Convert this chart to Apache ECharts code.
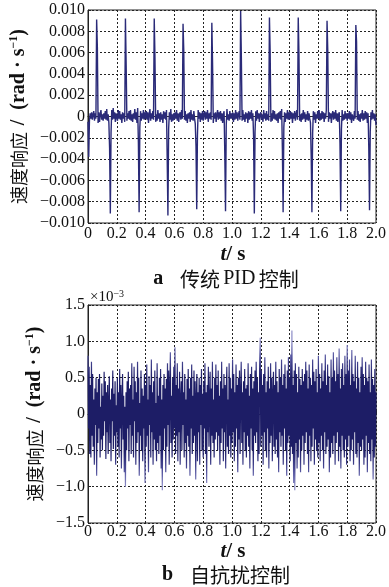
<!DOCTYPE html>
<html><head><meta charset="utf-8">
<script src="https://cdn.jsdelivr.net/npm/echarts@6/dist/echarts.min.js"></script>
<style>html,body{margin:0;padding:0;background:#fff}#c{width:389px;height:587px}</style>
</head><body><div id="c"></div>
<script>
// Panel a: traditional PID, sample step 0.005 s, values in units of 1e-4 rad/s
const DT_A = 0.005;
const speedA = [
-5,-38,-4,3,-2,4,-3,2,5,-4,3,-2, 91,65, -6,4,-5,2,6,-3,2,-4,3,-2,5,-3,7,-4,2,-6, -30,-91,-15, 6,-3,8,-2,4,-5,3,
3,-4,6,-2,5,-3,2,-6,4,-2,3,-5, 92,48, -4,3,-2,5,-3,6,-4,2,-5,3,-2,7,-3,4,-6,8, -25,-90,-10, 5,-4,3,-2,6,-3,4,
-2,5,-3,4,-6,2,7,-4,3,-2,5,-3, 92,55, -5,2,-4,6,-2,3,-5,4,-3,2,-6,5,-2,4,-3,6, -40,-93,-12, 4,-3,7,-5,2,-4,3,
-3,4,-2,6,-4,3,-5,2,4,-3,6,-2, 87,62, -3,5,-4,2,-6,3,-2,4,-5,6,-3,2,-4,5,-2,-7, -28,-87,-18, 6,-2,4,-5,3,-3,5,
-4,2,5,-3,4,-2,6,-5,3,-2,4,-3, 88,50, -6,3,-2,4,-5,2,6,-3,4,-2,5,-4,3,-6,2,5, -35,-89,-8, 7,-3,2,-4,5,-2,3,
-2,4,-5,3,-3,6,-2,4,-4,2,5,-3, 99,55, -4,6,-3,2,-5,4,-2,3,-6,5,-3,4,-2,6,-4,3, -20,-91,-14, 5,-4,6,-2,3,-5,2,
4,-3,2,-5,6,-2,3,-4,5,-3,2,-4, 93,60, -5,3,-4,6,-2,5,-3,2,-4,3,-6,4,-2,5,-3,7, -32,-90,-10, 4,-5,3,-2,6,-3,4,
-3,5,-2,4,-6,3,-2,5,-4,2,6,-3, 93,58, -4,2,-5,3,-3,6,-2,4,-5,2,-3,5,-4,3,-2,-6, -38,-90,-16, 5,-3,4,-6,2,-2,5,
-2,6,-4,3,-3,5,-2,4,-5,3,-2,6, 90,62, -5,4,-2,3,-6,2,5,-3,4,-2,6,-4,3,-5,2,4, -26,-89,-12, 6,-4,2,-3,5,-2,3,
-4,3,-2,5,-3,4,-6,2,3,-4,5,-2, 86,70, -3,5,-4,2,-5,3,-2,6,-4,3,-3,5,-2,4,-6,3, -30,-88,-14, 4,-3,6,-2,3,-4,2,
-8
];
// Panel b: ADRC, sample step 0.004 s, values in units of 1e-5 rad/s
const DT_B = 0.004;
const speedB = [
80,-20,65,-55,40,-60,72,-30,55,-45,20,-70,35,-15,50,-85,30,-40,48,-20,55,-60,10,-35,42,
-50,25,-30,58,-10,45,-62,30,-25,40,-55,15,52,-40,20,-65,35,-10,60,-48,28,-30,45,-70,12,
-25,50,-45,30,-60,62,-20,40,-75,18,55,-35,25,-80,10,-100,30,-50,45,-20,58,-65,35,-15,40,
-55,70,-30,20,-60,65,-10,45,-70,30,-40,72,-25,50,-85,15,-30,60,-50,35,-65,25,-20,55,-95,
40,-45,68,-30,20,-80,52,-15,40,-60,75,-25,30,-70,45,-35,60,-50,15,-65,70,-40,25,-55,50,
-30,62,-75,20,-105,40,-50,55,-20,35,-80,48,-45,70,-15,60,-70,30,85,-40,25,-60,50,-35,65,
-20,92,-55,40,-30,70,-65,35,-25,58,-70,20,45,-50,72,-15,30,-60,55,-40,20,-75,48,-30,62,
-45,35,-85,50,-20,68,-55,25,-40,60,-30,45,-90,20,55,-65,30,-25,50,-70,40,-15,62,-50,28,
-60,45,-20,70,-55,30,-95,40,-25,65,-45,15,58,-70,35,-30,72,-40,20,-60,50,-35,68,-25,40,
-50,60,-30,25,-70,45,-40,72,-20,35,-65,55,-25,40,-75,30,65,-45,20,-55,70,-30,50,-60,35,
-40,75,-25,55,-65,30,-45,68,-20,40,-80,50,-35,60,-55,25,72,-40,30,-70,45,-25,62,-50,35,
-60,40,-30,70,-45,25,-75,55,-20,65,-50,35,-85,45,-30,60,-40,72,-25,50,-65,30,-55,68,105,
-45,60,-30,40,-70,55,-25,78,-50,30,-60,45,-20,65,-75,35,-40,70,-30,50,-65,25,58,-45,40,
-55,72,-35,45,-60,30,-80,62,-25,50,-45,75,-30,40,-70,55,-20,68,-50,35,-85,60,-40,78,-30,
50,-65,82,-45,115,-55,40,-95,60,-105,70,-40,55,-75,30,-60,65,-35,48,-80,40,-50,62,-30,45,
-70,55,-40,72,-25,60,-55,35,-80,68,-30,50,-65,40,-45,75,-20,58,-70,45,-35,62,-50,30,-60,
80,-40,55,-65,35,-30,70,-50,45,-75,60,-25,82,-55,40,-45,68,-35,52,-80,30,-60,75,-40,50,
-55,85,-30,60,-70,45,-40,78,-25,55,-65,90,-45,35,-75,62,-30,70,-50,40,-60,80,-35,55,-70,
95,-45,60,-30,75,-65,40,-50,88,-35,55,-70,45,-25,80,-55,35,-60,72,-40,50,-85,30,-45,65,
-50,78,-35,55,-70,40,-60,72,-30,50,-80,45,-40,68,-55,30,-65,75,-35,48,-90,40,-60,62,-45,
30
];
const X_MIN = 0, X_MAX = 2, X_STEP = 0.2;
const YA_MIN = -100, YA_MAX = 100, YA_STEP = 20;      // 1e-4 rad/s
const YB_MIN = -1.5, YB_MAX = 1.5, YB_STEP = 0.5;     // 1e-3 rad/s

const serif = '"Liberation Serif","Noto Sans CJK SC",serif';
const cjk = '"Noto Sans CJK SC","Liberation Serif",sans-serif';
const ink = '#111';
const lineColor = '#2a2a78';
const dotted = {show:true, lineStyle:{color:'#222', type:[2,2], width:1}};
const minus = s => s.replace('-', '\u2212');

const dataA = speedA.map((v,i)=>[+(i*DT_A).toFixed(4), v]);
const dataB = speedB.map((v,i)=>[+(i*DT_B).toFixed(4), v/100]);

const yName = '{c|速度响应}  {r|/  (rad · s}{s|\u22121}{r|)}';
const yNameRich = {
  c:{fontFamily:cjk, fontSize:18, color:ink, lineHeight:22},
  r:{fontFamily:serif, fontSize:20, fontWeight:'bold', color:ink, lineHeight:22},
  s:{fontFamily:serif, fontSize:12, fontWeight:'bold', color:ink, verticalAlign:'top', lineHeight:22}
};
function xAxisCfg(idx, margin){
  return {gridIndex:idx, type:'value', min:X_MIN, max:X_MAX, interval:X_STEP,
    axisLine:{show:true, lineStyle:{color:'#222'}},
    axisTick:{show:true, inside:true, length:3, lineStyle:{color:'#222'}},
    axisLabel:{fontFamily:serif, fontSize:16, color:ink, margin:margin,
      formatter:v=> v===0 ? '0' : v.toFixed(1)},
    splitLine:dotted};
}
const L = '#8e8ec8', M = '#4a4a96', D = '#1d1d66';
const chart = echarts.init(document.getElementById('c'), null, {renderer:'canvas'});
chart.setOption({
  animation:false,
  backgroundColor:'#fff',
  grid:[
    {left:88, top:10, width:290, height:213, show:true, borderColor:'#222', borderWidth:1, backgroundColor:'transparent'},
    {left:88, top:305, width:290, height:218, show:true, borderColor:'#222', borderWidth:1, backgroundColor:'transparent'}
  ],
  visualMap:[{type:'continuous', show:false, seriesIndex:1, dimension:1, min:-1.5, max:1.5,
    inRange:{color:[L,L,L,M,D,D,D,D,D,M,L,L,L]}}],
  xAxis:[xAxisCfg(0,3), xAxisCfg(1,1)],
  yAxis:[
    {gridIndex:0, type:'value', min:YA_MIN, max:YA_MAX, interval:YA_STEP,
     axisLine:{show:true, lineStyle:{color:'#222'}},
     axisTick:{show:true, inside:true, length:3, lineStyle:{color:'#222'}},
     axisLabel:{fontFamily:serif, fontSize:16, color:ink, margin:3,
       formatter:v=> v===0 ? '0' : minus((v/1e4).toFixed(3))},
     splitLine:dotted,
     name:yName, nameLocation:'middle', nameRotate:90, nameGap:54, nameTextStyle:{rich:yNameRich}},
    {gridIndex:1, type:'value', min:YB_MIN, max:YB_MAX, interval:YB_STEP,
     axisLine:{show:true, lineStyle:{color:'#222'}},
     axisTick:{show:true, inside:true, length:3, lineStyle:{color:'#222'}},
     axisLabel:{fontFamily:serif, fontSize:16, color:ink, margin:3,
       formatter:v=> v===0 ? '0' : minus(v.toFixed(1))},
     splitLine:dotted,
     name:yName, nameLocation:'middle', nameRotate:90, nameGap:41, nameTextStyle:{rich:yNameRich}}
  ],
  series:[
    {type:'line', xAxisIndex:0, yAxisIndex:0, data:dataA, showSymbol:false, symbol:'none', sampling:null,
     lineStyle:{color:lineColor, width:1.4}, z:3},
    {type:'line', xAxisIndex:1, yAxisIndex:1, data:dataB, showSymbol:false, symbol:'none', sampling:null,
     lineStyle:{width:1.2}, z:3}
  ],
  graphic:[
    {type:'text', left:90, top:289, style:{text:'{m|×10}{s|\u22123}', rich:{
      m:{fontFamily:serif, fontSize:15, fill:ink, lineHeight:16},
      s:{fontFamily:serif, fontSize:10, fill:ink, verticalAlign:'top', lineHeight:16}}}},
    {type:'text', x:233, y:255, style:{text:'{i|t}{r|/ s}', align:'center', verticalAlign:'middle', rich:{
      i:{fontFamily:serif, fontStyle:'italic', fontWeight:'bold', fontSize:21, fill:ink},
      r:{fontFamily:serif, fontWeight:'bold', fontSize:21, fill:ink}}}},
    {type:'text', x:233, y:552, style:{text:'{i|t}{r|/ s}', align:'center', verticalAlign:'middle', rich:{
      i:{fontFamily:serif, fontStyle:'italic', fontWeight:'bold', fontSize:21, fill:ink},
      r:{fontFamily:serif, fontWeight:'bold', fontSize:21, fill:ink}}}},
    {type:'text', x:226, y:279, style:{text:'{b|a}     {c|传统} {r|PID} {c|控制}', align:'center', verticalAlign:'middle', rich:{
      b:{fontFamily:serif, fontWeight:'bold', fontSize:20, fill:ink},
      c:{fontFamily:cjk, fontSize:20, fill:ink},
      r:{fontFamily:serif, fontSize:20, fill:ink}}}},
    {type:'text', x:226, y:575, style:{text:'{b|b}     {c|自抗扰控制}', align:'center', verticalAlign:'middle', rich:{
      b:{fontFamily:serif, fontWeight:'bold', fontSize:20, fill:ink},
      c:{fontFamily:cjk, fontSize:20, fill:ink}}}}
  ]
});
</script></body></html>
